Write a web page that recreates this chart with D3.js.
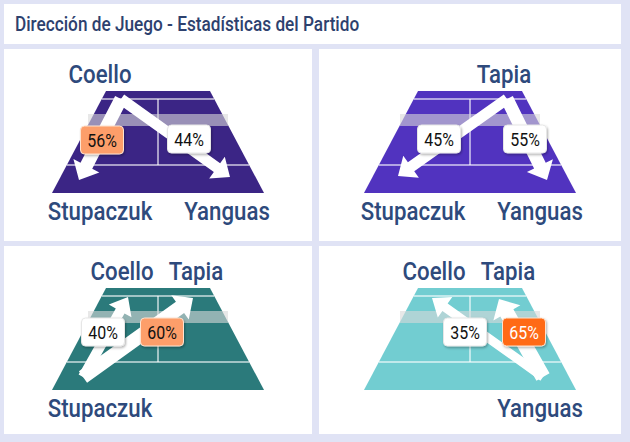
<!DOCTYPE html>
<html>
<head>
<meta charset="utf-8">
<script src="https://cdn.jsdelivr.net/npm/d3@7"></script>
<style>
  body { margin: 0; background: #e0e3f5; }
  svg { display: block; font-family: Roboto, "Liberation Sans", sans-serif; }
</style>
</head>
<body>
<div id="chart"></div>
<script>

// ---- data ----
var title = "Dirección de Juego - Estadísticas del Partido";
var topNames = [["Coello"], ["Tapia"], ["Coello", "Tapia"], ["Coello", "Tapia"]];
var bottomNames = [["Stupaczuk", "Yanguas"], ["Stupaczuk", "Yanguas"], ["Stupaczuk"], ["Yanguas"]];
var pctFirst = [56, 45, 40, 35];   // arrow towards first target
var pctSecond = [44, 55, 60, 65];  // arrow towards second target
var courtColors = ["#3b2585", "#5133bf", "#2b7a7b", "#72cdd1"];

// ---- layout (court units: x from centre, y from top of court) ----
var geo = [
  {start: [-37, 8], tips: [[-79, 89], [72, 86]], boxes: [[-56, 49], [31, 48]], top: [-58], bottom: [-58, 69]},
  {start: [37, 8], tips: [[-72, 85], [77, 89]], boxes: [[-31, 48], [55, 48]], top: [34], bottom: [-57, 70]},
  {start: [-75, 89], tips: [[-30, 9], [35, 10]], boxes: [[-55, 44], [4, 44]], top: [-36, 38], bottom: [-58]},
  {start: [73, 89], tips: [[-38, 10], [29, 11]], boxes: [[-5, 44], [54, 44]], top: [-36, 38], bottom: [70]}
];

var W = 630, H = 442;
var colX = [4, 319], colW = [308, 302];
var rowY = [49, 246], rowH = [192, 188];
var textColor = "#2e4a7c";
var squeeze = 0.84; // condensed look

function boxColor(p) {
  if (p >= 65) return "#ff6a13";
  if (p > 55) return "#fd9e6b";
  return "#ffffff";
}

var svg = d3.select("#chart").append("svg")
    .attr("width", W)
    .attr("height", H);

var defs = svg.append("defs");
var f = defs.append("filter").attr("id", "shadow")
    .attr("x", "-30%").attr("y", "-30%").attr("width", "160%").attr("height", "160%");
f.append("feDropShadow")
    .attr("dx", 1).attr("dy", 1.5)
    .attr("stdDeviation", 1.2)
    .attr("flood-color", "#000")
    .attr("flood-opacity", 0.3);

function narrowText(sel, tx, ty, size, txt) {
  return sel.append("text")
      .attr("transform", "translate(" + tx + "," + ty + ") scale(" + squeeze + ",1)")
      .style("font-size", size + "px")
      .text(txt);
}

svg.append("rect").attr("width", W).attr("height", H).attr("fill", "#e0e3f5");

// title bar
svg.append("rect")
    .attr("x", 4).attr("y", 4)
    .attr("width", 617).attr("height", 40)
    .attr("fill", "#fff");
narrowText(svg, 15, 31, 20.5, title)
    .attr("fill", "#2d416e")
    .style("font-weight", 500);

function arrowPoints(s, t, w) {
  var dx = t[0] - s[0], dy = t[1] - s[1];
  var len = Math.sqrt(dx * dx + dy * dy);
  var ux = dx / len, uy = dy / len;
  var nx = -uy, ny = ux;
  var L = 16, hw = w / 2 + 8;
  var b = [t[0] - ux * L, t[1] - uy * L];
  return [
    [s[0] + nx * w / 2, s[1] + ny * w / 2],
    [b[0] + nx * w / 2, b[1] + ny * w / 2],
    [b[0] + nx * hw, b[1] + ny * hw],
    t,
    [b[0] - nx * hw, b[1] - ny * hw],
    [b[0] - nx * w / 2, b[1] - ny * w / 2],
    [s[0] - nx * w / 2, s[1] - ny * w / 2]
  ];
}

d3.range(4).forEach(function(i) {
  var c = i % 2, r = Math.floor(i / 2);
  var px = colX[c], py = rowY[r];
  var cx = px + colW[c] / 2;
  var courtTop = py + 42;

  svg.append("rect")
      .attr("x", px).attr("y", py)
      .attr("width", colW[c]).attr("height", rowH[r])
      .attr("fill", "#fff");

  // court scales
  var x = d3.scaleLinear().domain([-106, 106]).range([cx - 106, cx + 106]);
  var y = d3.scaleLinear().domain([0, 102]).range([courtTop, courtTop + 102]);
  var line = d3.line().x(function(d) { return x(d[0]); }).y(function(d) { return y(d[1]); });
  var halfW = function(v) { return 52 + 54 * v / 102; };

  var g = svg.append("g");

  g.append("path")
      .attr("d", line([[-52, 0], [52, 0], [106, 102], [-106, 102]]) + "Z")
      .attr("fill", courtColors[i]);

  // court lines
  [8, 74].forEach(function(v) {
    g.append("path")
        .attr("d", line([[-halfW(v), v], [halfW(v), v]]))
        .attr("stroke", "#fff").attr("stroke-opacity", 0.75)
        .attr("stroke-width", 1.5);
  });
  g.append("path")
      .attr("d", line([[0, 8], [0, 74]]))
      .attr("stroke", "#fff").attr("stroke-opacity", 0.75)
      .attr("stroke-width", 1.5);

  // net band
  g.append("rect")
      .attr("x", x(-70)).attr("y", y(23))
      .attr("width", x(70) - x(-70)).attr("height", y(35) - y(23))
      .attr("fill", "rgb(216,216,216)").attr("fill-opacity", 0.6);

  // arrows, width follows the share
  var pcts = [pctFirst[i], pctSecond[i]];
  pcts.forEach(function(p, k) {
    var w = 2 + p * 0.2;
    g.append("path")
        .attr("d", line(arrowPoints(geo[i].start, geo[i].tips[k], w)) + "Z")
        .attr("fill", "#fff");
  });

  // percentage boxes
  pcts.forEach(function(p, k) {
    var b = geo[i].boxes[k];
    var fill = boxColor(p);
    g.append("rect")
        .attr("x", x(b[0]) - 21.5).attr("y", y(b[1]) - 14)
        .attr("width", 43).attr("height", 28)
        .attr("rx", 4)
        .attr("fill", fill)
        .attr("stroke", fill == "#ffffff" ? "#e6e6e6" : "#fde3d0")
        .attr("stroke-width", 1)
        .attr("filter", "url(#shadow)");
    narrowText(g, x(b[0]), y(b[1]) + 6.6, 19, p + "%")
        .style("text-anchor", "middle")
        .attr("fill", p >= 65 ? "#fff" : "#111");
  });

  // player names
  topNames[i].forEach(function(n, k) {
    narrowText(g, x(geo[i].top[k]), y(-8), 26.5, n)
        .style("text-anchor", "middle")
        .style("font-weight", 500)
        .attr("fill", textColor);
  });
  bottomNames[i].forEach(function(n, k) {
    narrowText(g, x(geo[i].bottom[k]), y(129), 26.5, n)
        .style("text-anchor", "middle")
        .style("font-weight", 500)
        .attr("fill", textColor);
  });
});

</script>
</body>
</html>
